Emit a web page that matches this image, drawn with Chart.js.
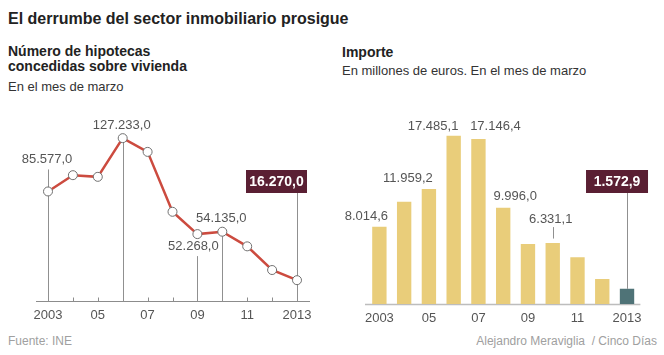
<!DOCTYPE html>
<html><head><meta charset="utf-8">
<script src="https://cdn.jsdelivr.net/npm/chart.js@4/dist/chart.umd.min.js"></script>
<style>
html,body{margin:0;padding:0;background:#fff;}
body{width:664px;height:355px;position:relative;overflow:hidden;font-family:"Liberation Sans",Arial,sans-serif;}
.t{position:absolute;white-space:nowrap;}
#title{left:8px;top:10px;font-weight:bold;font-size:16px;color:#222;}
#lt{left:8px;top:44px;font-weight:bold;font-size:14px;line-height:14.5px;color:#222;}
#ls{left:8px;top:79px;font-size:13px;color:#333;}
#rt{left:342px;top:44px;font-weight:bold;font-size:14px;color:#222;}
#rs{left:342px;top:63px;font-size:13px;color:#333;}
#f1{left:8px;top:334px;font-size:12px;color:#a0a0a0;}
#f2{right:7px;top:334px;font-size:12px;color:#a0a0a0;}
canvas{position:absolute;top:0;}
#c1{left:0;}
#c2{left:332px;}
</style></head>
<body>
<div class="t" id="title">El derrumbe del sector inmobiliario prosigue</div>
<div class="t" id="lt">Número de hipotecas<br>concedidas sobre vivienda</div>
<div class="t" id="ls">En el mes de marzo</div>
<div class="t" id="rt">Importe</div>
<div class="t" id="rs">En millones de euros. En el mes de marzo</div>
<div class="t" id="f1">Fuente: INE</div>
<div class="t" id="f2">Alejandro Meraviglia&nbsp; / Cinco Días</div>
<canvas id="c1" width="332" height="355"></canvas>
<canvas id="c2" width="332" height="355"></canvas>
<script>
// ---- data ----
const categories = ['2003','2004','2005','2006','2007','2008','2009','2010','2011','2012','2013'];
const tickLabels = ['2003','','05','','07','','09','','11','','2013'];
const hipotecas = [85577.0, 98300, 97000, 127233.0, 116500, 69700, 52268.0, 54135.0, 42700, 24200, 16270.0];
const importe = [8014.6, 10630, 11959.2, 17485.1, 17146.4, 9996.0, 6230, 6331.1, 4850, 2600, 1572.9];

// ---- annotation layout (styles) ----
const leftNotes = [
  {i:0, dx:-1, dy:-32, lineTop:-22},
  {i:3, dx:-1, dy:-12.5, lineTop:0},
  {i:6, dx:-4, dy:12.5, lineTop:22},
  {i:7, dx:-1, dy:-13, lineTop:0},
];
const leftBox = {i:10, left:-51, width:61, top:170, height:23};
const rightNotes = [
  {i:0, dx:-13, dy:-10.7},
  {i:2, dx:-21, dy:-10},
  {i:3, dx:-20.6, dy:-9},
  {i:4, dx:17, dy:-12.3},
  {i:5, dx:12, dy:-11.7},
  {i:7, dx:-2, dy:-23.4, lead:[-16,-4.5]},
];
const rightBox = {i:10, left:-41, width:62, top:170, height:23};

const FONT = '"Liberation Sans", Arial, sans-serif';
function fmt(v){
  const s = v.toFixed(1).split('.');
  return s[0].replace(/\B(?=(\d{3})+(?!\d))/g,'.') + ',' + s[1];
}
function drawBox(ctx, px, b, txt){
  ctx.fillStyle = '#5a1f33';
  ctx.fillRect(px + b.left, b.top, b.width, b.height);
  ctx.fillStyle = '#fff';
  ctx.font = 'bold 14px ' + FONT;
  ctx.textAlign = 'center'; ctx.textBaseline = 'middle';
  ctx.fillText(txt, px + b.left + b.width/2, b.top + b.height/2 + 0.5);
}

const xCommon = () => ({
  grid:{display:false, drawTicks:false}, border:{display:false},
  ticks:{autoSkip:false, maxRotation:0, padding:7, color:'#555', font:{family:FONT, size:13},
         callback:(v,i)=>tickLabels[i]},
  afterFit:(s)=>{ s.height = 30; }
});

const leftPlugin = {
  id:'leftDeco',
  beforeDatasetsDraw(chart){
    const {ctx, scales:{x,y}} = chart;
    const base = Math.round(y.getPixelForValue(0)) + 0.5;
    ctx.save();
    ctx.strokeStyle = '#8c8c8c'; ctx.lineWidth = 1;
    ctx.beginPath();
    ctx.moveTo(x.left - 12, base); ctx.lineTo(x.right + 13, base);
    categories.forEach((c,i)=>{
      const px = Math.round(x.getPixelForValue(i)) + 0.5;
      ctx.moveTo(px, base); ctx.lineTo(px, base - 4);
    });
    ctx.stroke();
    ctx.strokeStyle = '#909090';
    ctx.beginPath();
    leftNotes.forEach(n=>{
      const px = Math.round(x.getPixelForValue(n.i)) + 0.5;
      const py = y.getPixelForValue(hipotecas[n.i]);
      ctx.moveTo(px, py + n.lineTop); ctx.lineTo(px, base);
    });
    const bx = Math.round(x.getPixelForValue(leftBox.i)) + 0.5;
    ctx.moveTo(bx, leftBox.top + leftBox.height); ctx.lineTo(bx, base);
    ctx.stroke();
    ctx.restore();
  },
  afterDatasetsDraw(chart){
    const {ctx, scales:{x,y}} = chart;
    ctx.save();
    ctx.fillStyle = '#555'; ctx.font = '13px ' + FONT;
    ctx.textAlign = 'center'; ctx.textBaseline = 'middle';
    leftNotes.forEach(n=>{
      const px = x.getPixelForValue(n.i), py = y.getPixelForValue(hipotecas[n.i]);
      ctx.fillText(fmt(hipotecas[n.i]), px + n.dx, py + n.dy);
    });
    drawBox(ctx, x.getPixelForValue(leftBox.i), leftBox, fmt(hipotecas[leftBox.i]));
    ctx.restore();
  }
};

new Chart(document.getElementById('c1'), {
  type:'line',
  data:{labels:categories, datasets:[{
    data:hipotecas, borderColor:'#cc4b3f', borderWidth:2.5, tension:0, clip:false,
    pointRadius:4.5, pointBackgroundColor:'#fff', pointBorderColor:'#707070', pointBorderWidth:1
  }]},
  options:{
    responsive:false, animation:false, devicePixelRatio:1,
    layout:{padding:{left:48, right:35, top:109, bottom:24}},
    plugins:{legend:{display:false}, tooltip:{enabled:false}},
    scales:{
      x:Object.assign(xCommon(), {offset:false}),
      y:{display:false, min:0, max:150000}
    }
  },
  plugins:[leftPlugin]
});

const rightPlugin = {
  id:'rightDeco',
  beforeDatasetsDraw(chart){
    const {ctx, scales:{x,y}} = chart;
    const base = Math.round(y.getPixelForValue(0)) + 0.5;
    ctx.save();
    ctx.strokeStyle = '#bdbdbd'; ctx.lineWidth = 1.5;
    ctx.beginPath(); ctx.moveTo(x.left - 2, base); ctx.lineTo(x.right + 1, base); ctx.stroke();
    ctx.restore();
  },
  afterDatasetsDraw(chart){
    const {ctx, scales:{x,y}} = chart;
    ctx.save();
    ctx.strokeStyle = '#909090'; ctx.lineWidth = 1;
    ctx.beginPath();
    rightNotes.forEach(n=>{
      if(!n.lead) return;
      const px = Math.round(x.getPixelForValue(n.i)) + 0.5, py = y.getPixelForValue(importe[n.i]);
      ctx.moveTo(px, py + n.lead[0]); ctx.lineTo(px, py + n.lead[1]);
    });
    const bx = Math.round(x.getPixelForValue(rightBox.i)) + 0.5;
    ctx.moveTo(bx, rightBox.top + rightBox.height); ctx.lineTo(bx, y.getPixelForValue(importe[rightBox.i]));
    ctx.stroke();
    ctx.fillStyle = '#555'; ctx.font = '13px ' + FONT;
    ctx.textAlign = 'center'; ctx.textBaseline = 'middle';
    rightNotes.forEach(n=>{
      const px = x.getPixelForValue(n.i), py = y.getPixelForValue(importe[n.i]);
      ctx.fillText(fmt(importe[n.i]), px + n.dx, py + n.dy);
    });
    drawBox(ctx, x.getPixelForValue(rightBox.i), rightBox, fmt(importe[rightBox.i]));
    ctx.restore();
  }
};

new Chart(document.getElementById('c2'), {
  type:'bar',
  data:{labels:categories, datasets:[{
    data:importe,
    backgroundColor:categories.map((c,i)=> i === rightBox.i ? '#4f7377' : '#e9cd7a'),
    categoryPercentage:1, barPercentage:0.58
  }]},
  options:{
    responsive:false, animation:false, devicePixelRatio:1,
    layout:{padding:{left:35, right:24.6, top:111.5, bottom:21}},
    plugins:{legend:{display:false}, tooltip:{enabled:false}},
    scales:{
      x:Object.assign(xCommon(), {offset:true}),
      y:{display:false, min:0, max:20000}
    }
  },
  plugins:[rightPlugin]
});
</script>
</body></html>
